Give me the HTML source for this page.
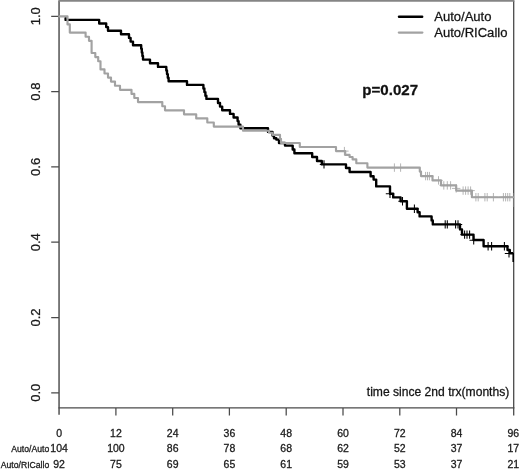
<!DOCTYPE html>
<html><head><meta charset="utf-8"><title>Survival plot</title>
<style>html,body{margin:0;padding:0;background:#fff}body{width:520px;height:469px;overflow:hidden}text{stroke:#1a1a1a;stroke-width:.28px}</style></head>
<body>
<svg width="520" height="469" viewBox="0 0 520 469" style="display:block;font-family:'Liberation Sans',Arial,Helvetica,sans-serif">
<rect width="520" height="469" fill="#fff"/>
<path d="M59.05 0.8V414.8" stroke="#4c4c4c" stroke-width="1.45" fill="none"/>
<path d="M513.7 0.8V415.5" stroke="#4a4a4a" stroke-width="1.3" fill="none"/>
<path d="M58.4 0.8H514.4" stroke="#858585" stroke-width="1.7" fill="none"/>
<path d="M58.5 407.9H514.4" stroke="#4a4a4a" stroke-width="1.25" fill="none"/>
<path d="M51.2 392.8H59 M51.2 317.5H59 M51.2 242.2H59 M51.2 166.9H59 M51.2 91.6H59 M51.2 16.3H59" stroke="#4a4a4a" stroke-width="1.25" fill="none"/>
<path d="M115.9 408V415.5 M172.7 408V415.5 M229.4 408V415.5 M286.2 408V415.5 M343.0 408V415.5 M399.8 408V415.5 M456.5 408V415.5" stroke="#4a4a4a" stroke-width="1.25" fill="none"/>
<text transform="translate(40.2 392.8) rotate(-90)" text-anchor="middle" font-size="13" fill="#1a1a1a">0.0</text>
<text transform="translate(40.2 317.5) rotate(-90)" text-anchor="middle" font-size="13" fill="#1a1a1a">0.2</text>
<text transform="translate(40.2 242.2) rotate(-90)" text-anchor="middle" font-size="13" fill="#1a1a1a">0.4</text>
<text transform="translate(40.2 166.9) rotate(-90)" text-anchor="middle" font-size="13" fill="#1a1a1a">0.6</text>
<text transform="translate(40.2 91.6) rotate(-90)" text-anchor="middle" font-size="13" fill="#1a1a1a">0.8</text>
<text transform="translate(40.2 16.3) rotate(-90)" text-anchor="middle" font-size="13" fill="#1a1a1a">1.0</text>
<text transform="translate(59.1 436.9) scale(1.04 1)" text-anchor="middle" font-size="10.1" fill="#1a1a1a">0</text>
<text transform="translate(59.1 452.4) scale(1.04 1)" text-anchor="middle" font-size="10.1" fill="#1a1a1a">104</text>
<text transform="translate(59.1 468.2) scale(1.04 1)" text-anchor="middle" font-size="10.1" fill="#1a1a1a">92</text>
<text transform="translate(115.9 436.9) scale(1.04 1)" text-anchor="middle" font-size="10.1" fill="#1a1a1a">12</text>
<text transform="translate(115.9 452.4) scale(1.04 1)" text-anchor="middle" font-size="10.1" fill="#1a1a1a">100</text>
<text transform="translate(115.9 468.2) scale(1.04 1)" text-anchor="middle" font-size="10.1" fill="#1a1a1a">75</text>
<text transform="translate(172.7 436.9) scale(1.04 1)" text-anchor="middle" font-size="10.1" fill="#1a1a1a">24</text>
<text transform="translate(172.7 452.4) scale(1.04 1)" text-anchor="middle" font-size="10.1" fill="#1a1a1a">86</text>
<text transform="translate(172.7 468.2) scale(1.04 1)" text-anchor="middle" font-size="10.1" fill="#1a1a1a">69</text>
<text transform="translate(229.4 436.9) scale(1.04 1)" text-anchor="middle" font-size="10.1" fill="#1a1a1a">36</text>
<text transform="translate(229.4 452.4) scale(1.04 1)" text-anchor="middle" font-size="10.1" fill="#1a1a1a">78</text>
<text transform="translate(229.4 468.2) scale(1.04 1)" text-anchor="middle" font-size="10.1" fill="#1a1a1a">65</text>
<text transform="translate(286.2 436.9) scale(1.04 1)" text-anchor="middle" font-size="10.1" fill="#1a1a1a">48</text>
<text transform="translate(286.2 452.4) scale(1.04 1)" text-anchor="middle" font-size="10.1" fill="#1a1a1a">68</text>
<text transform="translate(286.2 468.2) scale(1.04 1)" text-anchor="middle" font-size="10.1" fill="#1a1a1a">61</text>
<text transform="translate(343.0 436.9) scale(1.04 1)" text-anchor="middle" font-size="10.1" fill="#1a1a1a">60</text>
<text transform="translate(343.0 452.4) scale(1.04 1)" text-anchor="middle" font-size="10.1" fill="#1a1a1a">62</text>
<text transform="translate(343.0 468.2) scale(1.04 1)" text-anchor="middle" font-size="10.1" fill="#1a1a1a">59</text>
<text transform="translate(399.8 436.9) scale(1.04 1)" text-anchor="middle" font-size="10.1" fill="#1a1a1a">72</text>
<text transform="translate(399.8 452.4) scale(1.04 1)" text-anchor="middle" font-size="10.1" fill="#1a1a1a">52</text>
<text transform="translate(399.8 468.2) scale(1.04 1)" text-anchor="middle" font-size="10.1" fill="#1a1a1a">53</text>
<text transform="translate(456.5 436.9) scale(1.04 1)" text-anchor="middle" font-size="10.1" fill="#1a1a1a">84</text>
<text transform="translate(456.5 452.4) scale(1.04 1)" text-anchor="middle" font-size="10.1" fill="#1a1a1a">37</text>
<text transform="translate(456.5 468.2) scale(1.04 1)" text-anchor="middle" font-size="10.1" fill="#1a1a1a">37</text>
<text transform="translate(513.3 436.9) scale(1.04 1)" text-anchor="middle" font-size="10.1" fill="#1a1a1a">96</text>
<text transform="translate(513.3 452.4) scale(1.04 1)" text-anchor="middle" font-size="10.1" fill="#1a1a1a">17</text>
<text transform="translate(513.3 468.2) scale(1.04 1)" text-anchor="middle" font-size="10.1" fill="#1a1a1a">21</text>
<text x="49.2" y="452.1" text-anchor="end" font-size="8.65" fill="#1a1a1a">Auto/Auto</text>
<text x="49.2" y="467.6" text-anchor="end" font-size="8.65" fill="#1a1a1a">Auto/RICallo</text>
<path d="M64.8 17.6 H65.6 V19.9 H99.2 V23.5 H106.2 V27.1 H108.0 V30.7 H121.0 V34.3 H129.0 V37.9 H130.6 V41.6 H133.0 V45.2 H141.2 V48.8 H141.8 V52.4 H142.4 V56.0 H143.0 V59.6 H150.0 V63.2 H158.0 V66.9 H166.3 V70.5 H167.0 V74.1 H167.8 V77.7 H168.6 V81.3 H187.0 V84.9 H203.4 V88.5 H204.4 V92.1 H205.4 V95.7 H206.4 V98.9 H218.0 V103.0 H220.0 V106.6 H222.2 V110.2 H230.0 V113.9 H233.6 V117.5 H237.6 V121.1 H238.6 V124.7 H240.4 V128.3 H268.0 V131.9 H272.5 V135.5 H274.0 V138.2 H276.3 V139.6 H279.0 V143.0 H285.0 V145.6 H292.7 V149.5 H294.4 V153.2 H312.2 V157.0 H317.0 V161.0 H321.8 V164.4 H346.0 V168.0 H349.6 V172.0 H370.6 V176.2 H373.6 V179.6 H376.2 V186.4 H390.0 V193.7 H393.2 V197.4 H400.6 V201.2 H406.9 V208.8 H417.6 V212.2 H419.6 V216.4 H431.6 V220.4 H432.8 V224.4 H460.0 V229.4 H462.0 V234.6 H473.5 V240.0 H483.6 V246.2 H507.5 V250.0 H509.8 V253.2 H513.2 V253.2" stroke="#000" stroke-width="2.38" fill="none" stroke-linejoin="round" stroke-linecap="butt"/>
<path d="M324.0 160.2V168.6M319.8 164.4H328.2 M390.0 189.5V197.9M385.8 193.7H394.2 M402.5 197.0V205.4M398.3 201.2H406.7 M414.4 204.6V213.0M410.2 208.8H418.6 M445.2 220.2V228.6M441.0 224.4H449.4 M447.3 220.2V228.6M443.1 224.4H451.5 M455.6 220.2V228.6M451.4 224.4H459.8 M458.0 220.2V228.6M453.8 224.4H462.2 M464.6 230.4V238.8M460.4 234.6H468.8 M467.0 230.4V238.8M462.8 234.6H471.2 M469.6 230.4V238.8M465.4 234.6H473.8 M473.7 236.0V244.4M469.5 240.2H477.9 M488.1 242.0V250.4M483.9 246.2H492.3 M491.6 242.0V250.4M487.4 246.2H495.8 M504.4 242.0V250.4M500.2 246.2H508.6 M509.0 249.2V257.6M504.8 253.4H513.0" stroke="#000" stroke-width="1.05" fill="none"/>
<path d="M513.2 253V262" stroke="#000" stroke-width="1.6" fill="none"/>
<path d="M59.2 16.3 H67.5 V24.4 H69.8 V32.6 H85.6 V36.7 H89.0 V40.8 H91.6 V53.0 H95.3 V57.1 H98.2 V61.2 H100.5 V69.4 H104.5 V73.5 H108.0 V77.6 H111.0 V81.6 H115.0 V85.7 H120.0 V89.8 H131.5 V93.9 H134.3 V98.0 H138.0 V102.1 H162.3 V106.2 H165.0 V110.3 H184.0 V114.3 H196.2 V118.4 H207.3 V122.5 H213.8 V126.6 H243.0 V130.7 H269.0 V132.7 H272.5 V134.8 H280.0 V138.9 H281.0 V143.0 H299.8 V147.0 H336.0 V151.1 H345.2 V154.9 H349.6 V157.0 H352.6 V159.4 H356.3 V163.2 H367.4 V167.6 H419.8 V171.6 H421.0 V176.1 H432.5 V180.4 H441.0 V185.4 H456.2 V190.6 H471.9 V197.2 H513.2 V197.2" stroke="#a2a2a2" stroke-width="2.15" fill="none" stroke-linejoin="round" stroke-linecap="round"/>
<path d="M344.4 146.9V155.3M340.2 151.1H348.6 M394.4 163.4V171.8M390.2 167.6H398.6 M400.6 163.4V171.8M396.4 167.6H404.8 M425.6 171.9V180.3M421.4 176.1H429.8 M427.5 171.9V180.3M423.3 176.1H431.7 M429.4 171.9V180.3M425.2 176.1H433.6 M438.5 176.2V184.6M434.3 180.4H442.7 M443.8 181.2V189.6M439.6 185.4H448.0 M447.3 181.2V189.6M443.1 185.4H451.5 M450.6 181.2V189.6M446.4 185.4H454.8 M456.2 184.2V192.6M452.0 188.4H460.4 M463.1 186.4V194.8M458.9 190.6H467.3 M465.6 186.4V194.8M461.4 190.6H469.8 M468.1 186.4V194.8M463.9 190.6H472.3 M470.6 186.4V194.8M466.4 190.6H474.8 M475.9 193.0V201.4M471.7 197.2H480.1 M478.2 193.0V201.4M474.0 197.2H482.4 M484.9 193.0V201.4M480.7 197.2H489.1 M487.2 193.0V201.4M483.0 197.2H491.4 M493.4 193.0V201.4M489.2 197.2H497.6 M503.4 193.0V201.4M499.2 197.2H507.6 M505.6 193.0V201.4M501.4 197.2H509.8 M507.7 193.0V201.4M503.5 197.2H511.9 M509.8 193.0V201.4M505.6 197.2H513.0" stroke="#a2a2a2" stroke-width="0.8" fill="none"/>
<path d="M513.4 193V207" stroke="#a2a2a2" stroke-width="1" fill="none" opacity="0.45"/>
<path d="M399 16.7H422.2" stroke="#000" stroke-width="2.38" stroke-linecap="round"/>
<path d="M398.8 32.6H422.4" stroke="#a2a2a2" stroke-width="2.15" stroke-linecap="round"/>
<text x="434.2" y="21.2" font-size="13.05" fill="#111">Auto/Auto</text>
<text x="434.2" y="37.2" font-size="13.05" fill="#111">Auto/RICallo</text>
<text x="362.3" y="95.3" font-size="15.1" font-weight="bold" fill="#111">p=0.027</text>
<text x="509.3" y="396.1" text-anchor="end" font-size="12.1" fill="#111">time since 2nd trx(months)</text>
</svg>
</body></html>
